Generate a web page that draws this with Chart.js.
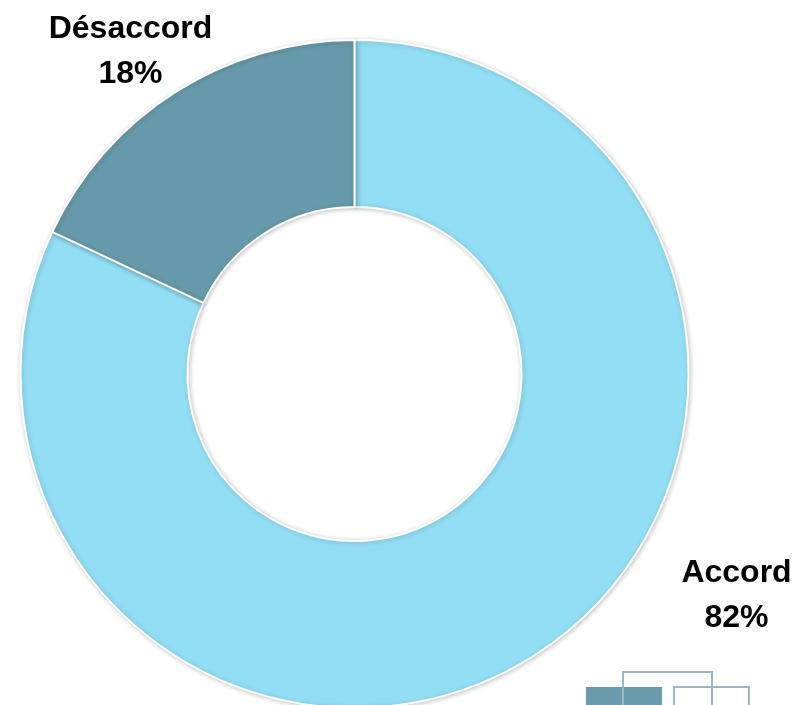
<!DOCTYPE html>
<html lang="fr">
<head>
    <meta charset="UTF-8">
    <title>Accord / Désaccord</title>
    <script src="https://cdn.jsdelivr.net/npm/chart.js"></script>
    <style>
        html, body { margin: 0; padding: 0; background: #fff; overflow: hidden; }
        .chart-box { position: relative; width: 792px; height: 720px; }
        .logo { position: absolute; box-sizing: border-box; }
    </style>
</head>
<body>
    <div class="chart-box">
        <canvas id="donut"></canvas>
    </div>
    <!-- petit logo coupé en bas à droite -->
    <div class="logo" style="left:586px; top:687px; width:76px; height:30px; background:#6a9aab;"></div>
    <div class="logo" style="left:622px; top:687px; width:2px; height:30px; background:#8fb0bd;"></div>
    <div class="logo" style="left:622px; top:671px; width:91px; height:40px; border:2px solid #9ab8c4; border-bottom:none;"></div>
    <div class="logo" style="left:673px; top:686px; width:77px; height:40px; border:2px solid #9ab8c4;"></div>

    <script>
        const categories = ['Accord', 'Désaccord'];
        const percentages = [82, 18];
        const sliceColors = ['#92def4', '#6699a9'];

        // étiquettes en dehors de l'anneau (position relative au centre)
        const labelPlugin = {
            id: 'outerLabels',
            afterDatasetsDraw(chart) {
                const arc = chart.getDatasetMeta(0).data[0];
                const cx = arc.x, cy = arc.y;
                const offsets = [[382, 208], [-224, -336]];
                const ctx = chart.ctx;
                ctx.save();
                ctx.fillStyle = '#000';
                ctx.font = 'bold 32px "Liberation Sans", Arial, sans-serif';
                ctx.textAlign = 'center';
                ctx.textBaseline = 'alphabetic';
                categories.forEach((name, i) => {
                    const x = cx + offsets[i][0];
                    const y = cy + offsets[i][1];
                    ctx.fillText(name, x, y);
                    ctx.fillText(percentages[i] + '%', x, y + 45);
                });
                ctx.restore();
            }
        };

        const shadowPlugin = {
            id: 'ringShadow',
            beforeDatasetDraw(chart) {
                const ctx = chart.ctx;
                ctx.save();
                ctx.shadowColor = 'rgba(0,0,0,0.22)';
                ctx.shadowBlur = 5;
                ctx.shadowOffsetX = 1;
                ctx.shadowOffsetY = 1;
            },
            afterDatasetDraw(chart) {
                chart.ctx.restore();
            }
        };

        new Chart(document.getElementById('donut'), {
            type: 'doughnut',
            data: {
                labels: categories,
                datasets: [{
                    data: percentages,
                    backgroundColor: sliceColors,
                    borderColor: '#ffffff',
                    borderWidth: 2
                }]
            },
            options: {
                responsive: true,
                maintainAspectRatio: false,
                animation: false,
                cutout: '50%',
                layout: {
                    padding: { left: 19, top: 39, right: 102, bottom: 11 }
                },
                plugins: {
                    legend: { display: false },
                    tooltip: { enabled: false }
                }
            },
            plugins: [shadowPlugin, labelPlugin]
        });
    </script>
</body>
</html>
